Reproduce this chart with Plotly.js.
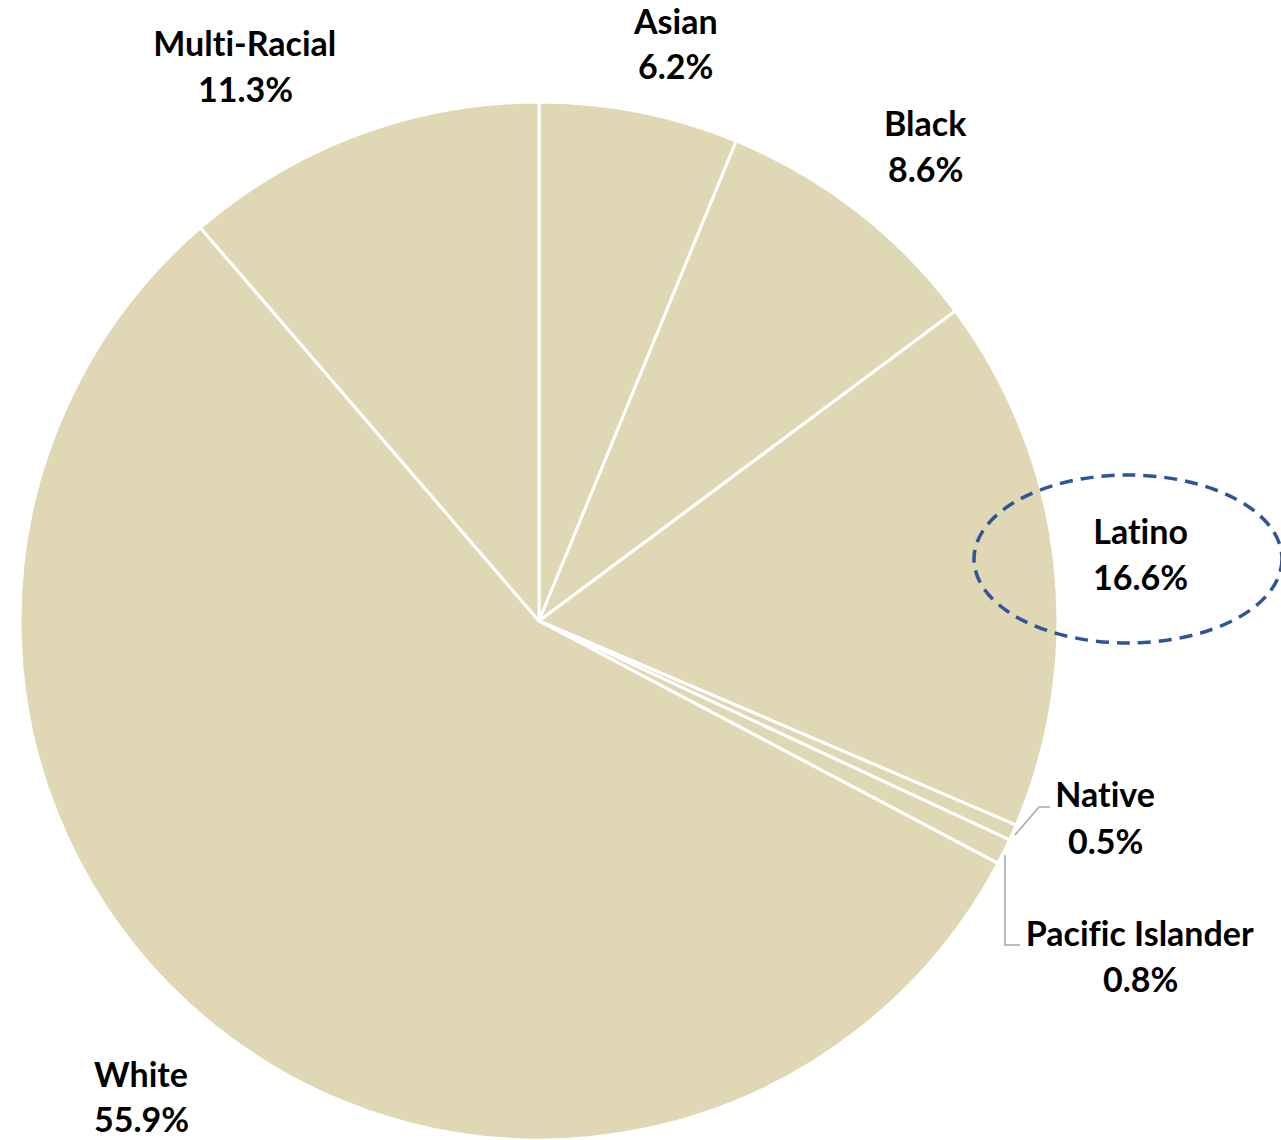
<!DOCTYPE html>
<html>
<head>
<meta charset="utf-8">
<script src="https://cdn.plot.ly/plotly-3.0.1.min.js"></script>
<style>
html,body{margin:0;padding:0;background:#fff;}
#chart{width:1281px;height:1140px;}
#chart text{font-variant-ligatures:none !important;font-feature-settings:"liga" 0,"clig" 0 !important;}
</style>
</head>
<body>
<div id="chart"></div>
<script>
// Data
var categories = ["Asian", "Black", "Latino", "Native", "Pacific Islander", "White", "Multi-Racial"];
var shares = [6.2, 8.6, 16.6, 0.5, 0.8, 55.9, 11.3];
var shareLabels = ["6.2%", "8.6%", "16.6%", "0.5%", "0.8%", "55.9%", "11.3%"];

// Label placement (pixel centers of name line and value line)
var labelX = [675, 925, 1140, 1105, 1140, 141, 245];
var nameY  = [20, 122, 530, 794, 932, 1073, 42];
var valueY = [66, 168, 576, 840, 978, 1118, 88];

var W = 1281, H = 1140;
function px(x) { return x / W; }
function py(y) { return 1 - y / H; }

var fontSpec = {family: "Lato, 'Open Sans', sans-serif", size: 34, color: "#000000", weight: 700};

var annotations = [];
for (var i = 0; i < categories.length; i++) {
  annotations.push({
    xref: "paper", yref: "paper", x: px(labelX[i]), y: py(nameY[i]),
    xanchor: "center", yanchor: "middle", showarrow: false,
    text: "<b>" + categories[i] + "</b>", font: fontSpec
  });
  annotations.push({
    xref: "paper", yref: "paper", x: px(labelX[i]), y: py(valueY[i]),
    xanchor: "center", yanchor: "middle", showarrow: false,
    text: "<b>" + shareLabels[i] + "</b>", font: fontSpec
  });
}

var shapes = [
  // dashed ellipse around Latino label
  {type: "circle", xref: "paper", yref: "paper",
   x0: px(974), x1: px(1282), y0: py(475), y1: py(643),
   line: {color: "#2F5597", width: 3.5, dash: "13px,8px"}},
  // leader line Native
  {type: "path", xref: "paper", yref: "paper",
   path: "M " + px(1015) + "," + py(835) + " L " + px(1039) + "," + py(807) + " L " + px(1050) + "," + py(807),
   line: {color: "#A6A6A6", width: 1.5}},
  // leader line Pacific Islander
  {type: "path", xref: "paper", yref: "paper",
   path: "M " + px(1005) + "," + py(855) + " L " + px(1005) + "," + py(945) + " L " + px(1020) + "," + py(945),
   line: {color: "#A6A6A6", width: 1.5}}
];

var trace = {
  type: "pie",
  labels: categories,
  values: shares,
  sort: false,
  direction: "clockwise",
  rotation: 0,
  textinfo: "none",
  hoverinfo: "label+percent",
  marker: {colors: categories.map(function(){ return "#E0D8B5"; }), line: {color: "#FFFFFF", width: 3}},
  domain: {x: [19 / W, 1059 / W], y: [0, 1 - 102 / H]},
  showlegend: false
};

var layout = {
  width: W, height: H,
  margin: {l: 0, r: 0, t: 0, b: 0},
  paper_bgcolor: "#FFFFFF",
  showlegend: false,
  annotations: annotations,
  shapes: shapes
};

Plotly.newPlot("chart", [trace], layout, {displayModeBar: false, staticPlot: true});
</script>
</body>
</html>
